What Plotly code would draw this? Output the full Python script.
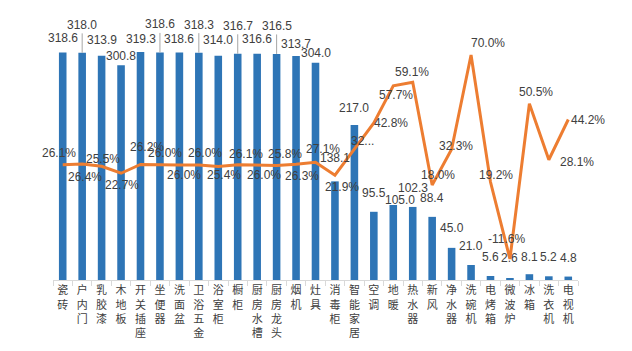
import plotly.graph_objects as go

categories = ["瓷砖", "户内门", "乳胶漆", "木地板", "开关插座", "坐便器", "洗面盆", "卫浴五金", "浴室柜",
              "橱柜", "厨房水槽", "厨房龙头", "烟机", "灶具", "消毒柜", "智能家居", "空调", "地暖",
              "热水器", "新风", "净水器", "洗碗机", "电烤箱", "微波炉", "冰箱", "洗衣机", "电视机"]
bar_values = [318.6, 318.0, 313.9, 300.8, 319.3, 318.6, 318.6, 318.3, 314.0,
              316.7, 316.6, 316.5, 313.7, 304.0, 138.1, 217.0, 95.5, 105.0,
              102.3, 88.4, 45.0, 21.0, 5.6, 2.6, 8.1, 5.2, 4.8]
growth_pct = [26.1, 26.4, 25.5, 22.7, 26.2, 26.0, 26.0, 26.0, 25.4,
              26.1, 26.0, 25.8, 26.3, 27.1, 21.9, 32.3, 42.8, 57.7,
              59.1, 18.0, 32.3, 70.0, 19.2, -11.6, 50.5, 28.1, 44.2]
growth_labels = [f"{v:.1f}%" for v in growth_pct]
growth_labels[15] = "32..."  # truncated in the source chart

# label placement styles (pixels)
bar_lift = [14, 28, 16, 9, 13, 28, 13, 28, 16, 28, 15, 28, 12, 10, 23, 17, 19, 5,
            19, 19, 20, 19, 19, 20, 17, 19, 19]
bar_leader = [False, True, False, False, False, True, False, True, False, True, False, True,
              False, False, False, False, False, False, False, False, False, False, False, False,
              False, False, False]
bar_dx = [0] * 27
bar_dx[17] = 7
line_dx = [-4, 3, 1, 1, 6, 5, 5, 6, 6, 8, 6.5, 8.5, 6, 7, 7, 8, 17, 2.5, -1, 5.5, 4, 17, 5, -3, 6.5, 28.5, 20]
line_dy = [-12, 12.7, -7, 12, -17.5, -12, 9.5, -12.5, 8, -11, 9.5, -12, 12, -13, 12, -8, 0, 9, -10,
           -10, -3, -12.5, -7, -20.5, -12, 2, 0]

tick_text = ["<br>".join(list(c)) for c in categories]

BLUE = "#2E75B6"
ORANGE = "#ED7D31"
TXT = "#404040"
FONT = "Liberation Sans, Arial, Noto Sans CJK SC, sans-serif"

fig = go.Figure()
fig.add_trace(go.Bar(x=categories, y=bar_values, marker=dict(color=BLUE, line=dict(width=0)),
                     yaxis="y", hoverinfo="skip"))
fig.add_trace(go.Scatter(x=categories, y=growth_pct, mode="lines", yaxis="y2",
                         line=dict(color=ORANGE, width=3), hoverinfo="skip"))

ann = []
for i, c in enumerate(categories):
    if bar_leader[i]:
        ann.append(dict(x=c, y=bar_values[i], xref="x", yref="y", text=f"{bar_values[i]:.1f}",
                        showarrow=True, ax=0, ay=-bar_lift[i], arrowhead=0, arrowwidth=1,
                        arrowcolor="#A6A6A6", standoff=0,
                        font=dict(size=12, color=TXT, family=FONT)))
    else:
        ann.append(dict(x=c, y=bar_values[i], xref="x", yref="y", text=f"{bar_values[i]:.1f}",
                        showarrow=False, yanchor="middle", xanchor="center",
                        yshift=bar_lift[i], xshift=bar_dx[i],
                        font=dict(size=12, color=TXT, family=FONT)))
    ann.append(dict(x=c, y=growth_pct[i], xref="x", yref="y2", text=growth_labels[i],
                    showarrow=False, yanchor="middle", xanchor="center",
                    xshift=line_dx[i], yshift=-line_dy[i],
                    font=dict(size=12, color=TXT, family=FONT)))

fig.update_layout(
    width=632, height=351, autosize=False,
    margin=dict(l=53, r=54, t=30, b=71, pad=0, autoexpand=False),
    paper_bgcolor="white", plot_bgcolor="white",
    showlegend=False, bargap=0.61,
    font=dict(family=FONT, color=TXT),
    xaxis=dict(tickmode="array", tickvals=categories, ticktext=tick_text,
               range=[-0.5, len(categories) - 0.5], autorange=False,
               tickfont=dict(size=11, color=TXT, family="Noto Sans CJK SC, sans-serif"),
               showline=True, linecolor="#D9D9D9", linewidth=1,
               ticks="outside", ticklen=5, tickcolor="#D9D9D9", tickson="boundaries",
               showgrid=False, tickangle=0, automargin=False),
    yaxis=dict(range=[0, 350], visible=False, showgrid=False, zeroline=False, automargin=False),
    yaxis2=dict(range=[-20, 80], overlaying="y", side="right", visible=False,
                showgrid=False, zeroline=False, automargin=False),
    annotations=ann,
)

fig.write_html("out.html", config={"responsive": False})
